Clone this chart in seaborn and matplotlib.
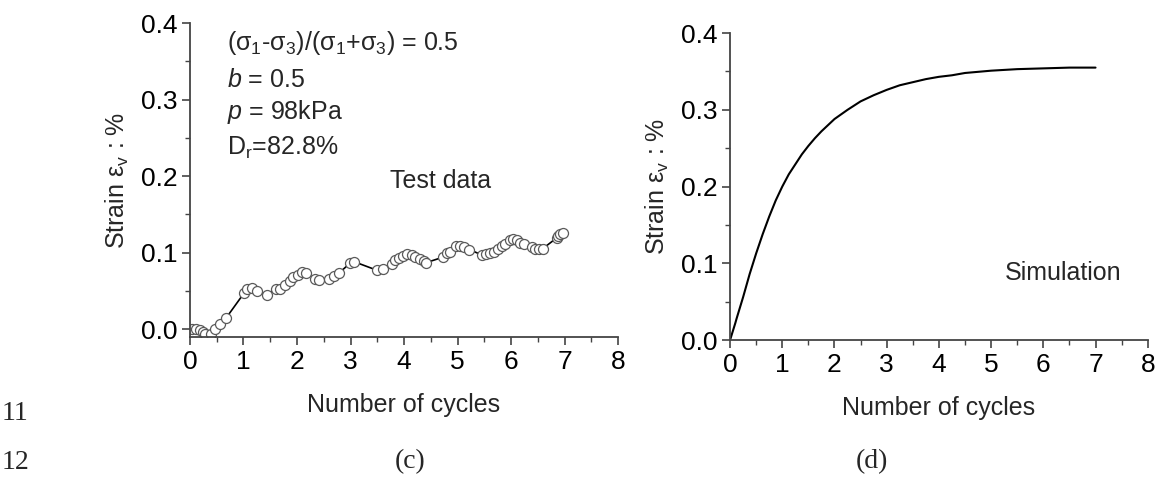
import numpy as np
import pandas as pd
import matplotlib
matplotlib.use("Agg")
import matplotlib.pyplot as plt
from matplotlib.ticker import MultipleLocator
import seaborn as sns

# ---- data ----
test_cycles = [0.04, 0.12, 0.19, 0.24, 0.28, 0.39, 0.47, 0.56, 0.67,
               1.01, 1.07, 1.15, 1.25,
               1.43, 1.60, 1.69, 1.78, 1.86, 1.93, 2.01, 2.09, 2.17,
               2.33, 2.42, 2.60, 2.69, 2.78, 2.99, 3.07, 3.49, 3.60,
               3.77, 3.84, 3.91, 3.99, 4.06, 4.14, 4.21, 4.29, 4.37, 4.42,
               4.73, 4.80, 4.86, 4.98, 5.05, 5.12, 5.22,
               5.45, 5.53, 5.61, 5.68, 5.76, 5.83, 5.89, 5.98, 6.04, 6.12, 6.17, 6.24,
               6.39, 6.45, 6.53, 6.59, 6.85, 6.88, 6.92, 6.98]
test_strain = [0.000, 0.000, -0.001, -0.0035, -0.006, -0.006, 0.000, 0.007, 0.014,
               0.047, 0.053, 0.054, 0.050,
               0.045, 0.052, 0.053, 0.057, 0.063, 0.068, 0.071, 0.074, 0.073,
               0.066, 0.064, 0.066, 0.069, 0.073, 0.086, 0.088, 0.077, 0.079,
               0.085, 0.090, 0.093, 0.096, 0.098, 0.097, 0.094, 0.091, 0.089, 0.087,
               0.094, 0.099, 0.101, 0.109, 0.109, 0.107, 0.104,
               0.097, 0.098, 0.099, 0.101, 0.105, 0.108, 0.1115, 0.117, 0.118, 0.116, 0.113, 0.1115,
               0.107, 0.105, 0.105, 0.105, 0.119, 0.122, 0.124, 0.125]

sim_cycles = [0, 0.1, 0.125, 0.25, 0.375, 0.5, 0.625, 0.75, 0.875, 1.0, 1.125, 1.25, 1.375,
              1.5, 1.625, 1.75, 1.875, 2.0, 2.25, 2.5, 2.75, 3.0, 3.25,
              3.5, 3.75, 4.0, 4.25, 4.5, 5.0, 5.5, 6.0, 6.5, 7.0]
sim_strain = [0, 0.022, 0.028, 0.056, 0.086, 0.113, 0.138, 0.161, 0.182, 0.200, 0.216, 0.229, 0.242,
              0.253, 0.263, 0.272, 0.280, 0.288, 0.300, 0.311, 0.319, 0.326, 0.332,
              0.336, 0.340, 0.343, 0.345, 0.348, 0.351, 0.353, 0.354, 0.355, 0.355]

x_ticks = [0, 1, 2, 3, 4, 5, 6, 7, 8]
y_ticks = [0.0, 0.1, 0.2, 0.3, 0.4]

# ---- style ----
sns.set_theme(style="ticks")
plt.rcParams['font.family'] = ['Liberation Sans', 'DejaVu Sans']
plt.rcParams['mathtext.fontset'] = 'custom'
plt.rcParams['mathtext.rm'] = 'Liberation Sans'
plt.rcParams['mathtext.it'] = 'Liberation Sans:italic'
plt.rcParams['mathtext.bf'] = 'Liberation Sans:bold'

FS_TICK = 19
FS_LAB = 18
FS_ANN = 18
SPINE = '#444444'

fig = plt.figure(figsize=(11.57, 4.90), dpi=100)
axL = fig.add_axes([0.1642, 0.312, 0.370, 0.641])
axR = fig.add_axes([0.631, 0.306, 0.361, 0.6265])

df_test = pd.DataFrame({"cycles": test_cycles, "strain": test_strain})
df_sim = pd.DataFrame({"cycles": sim_cycles, "strain": sim_strain})

sns.lineplot(data=df_test, x="cycles", y="strain", ax=axL, color='black', lw=1.2,
             marker='o', markersize=7.2, markerfacecolor='white',
             markeredgecolor='#5a5a5a', markeredgewidth=0.9, sort=False)
sns.lineplot(data=df_sim, x="cycles", y="strain", ax=axR, color='black', lw=1.5, sort=False)

for ax, ylo in ((axL, -0.0105), (axR, 0.0)):
    ax.set_xlim(0, 8)
    ax.set_ylim(ylo, 0.4)
    ax.set_xticks(x_ticks)
    ax.set_yticks(y_ticks)
    ax.set_xticklabels([str(t) for t in x_ticks])
    ax.set_yticklabels([f"{t:.1f}" for t in y_ticks])
    ax.xaxis.set_minor_locator(MultipleLocator(0.5))
    ax.yaxis.set_minor_locator(MultipleLocator(0.05))
    ax.tick_params(which='major', direction='out', length=6, width=1.2, color=SPINE,
                   labelsize=FS_TICK, pad=3, labelcolor='black')
    ax.tick_params(which='minor', direction='out', length=3.5, width=1.0, color=SPINE)
    for s in ('top', 'right'):
        ax.spines[s].set_visible(False)
    for s in ('left', 'bottom'):
        ax.spines[s].set_color(SPINE)
        ax.spines[s].set_linewidth(1.3)
    ax.set_xlabel("Number of cycles", fontsize=FS_LAB, labelpad=14)
    ax.set_ylabel(r"Strain ε$_\mathregular{v}$ : %", fontsize=FS_LAB, labelpad=7)
    ax.patch.set_alpha(0)

# annotations
axL.text(0.69, 0.374, r"(σ$_\mathregular{1}$-σ$_\mathregular{3}$)/(σ$_\mathregular{1}$+σ$_\mathregular{3}$) = 0.5",
         fontsize=FS_ANN, ha='left', va='center')
axL.text(0.69, 0.326, r"$\mathit{b}$ = 0.5", fontsize=FS_ANN, ha='left', va='center')
axL.text(0.69, 0.284, r"$\mathit{p}$ = 98kPa", fontsize=FS_ANN, ha='left', va='center')
axL.text(0.69, 0.237, r"D$_\mathregular{r}$=82.8%", fontsize=FS_ANN, ha='left', va='center')
axL.text(3.74, 0.194, "Test data", fontsize=FS_ANN, ha='left', va='center')
axR.text(6.37, 0.087, "Simulation", fontsize=FS_ANN, ha='center', va='center')

# captions and document line numbers
fig.text(410 / 1157, 1 - 462 / 490, "(c)", fontsize=20, family='Liberation Serif', ha='center', va='center')
fig.text(872 / 1157, 1 - 462 / 490, "(d)", fontsize=20, family='Liberation Serif', ha='center', va='center')
fig.text(0.001, 1 - 413 / 490, "11", fontsize=20, family='Liberation Serif', ha='left', va='center')
fig.text(0.001, 1 - 462 / 490, "12", fontsize=20, family='Liberation Serif', ha='left', va='center')

fig.savefig("out.png", dpi=100, facecolor='white')
